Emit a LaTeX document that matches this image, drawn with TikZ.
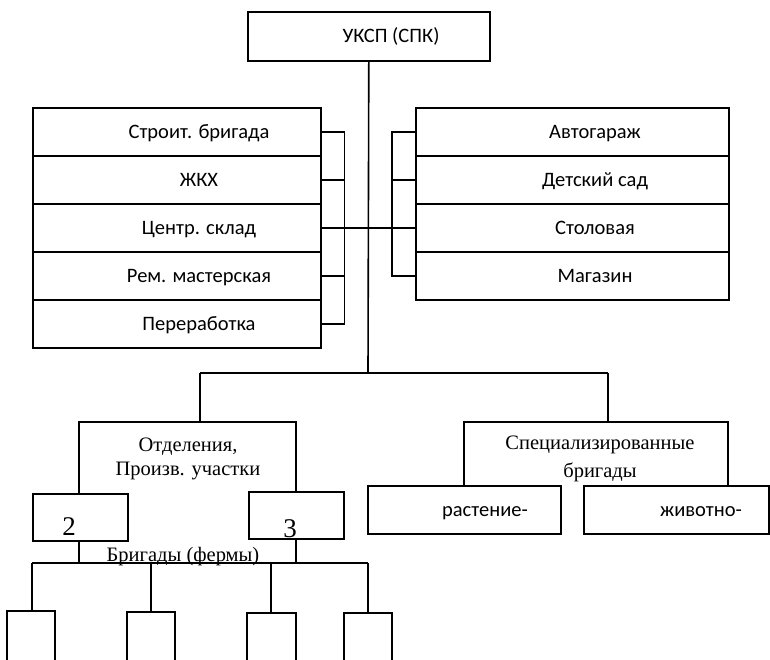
\documentclass[tikz,border=0pt]{standalone}
\usepackage{fontspec}
\setmainfont{Liberation Serif}
\newfontfamily\calib{Carlito}
\begin{document}
\begin{tikzpicture}[x=1pt,y=-1pt,line width=1.6pt,
  box/.style={draw,rectangle,inner sep=0pt,anchor=north west},
  stxt/.style={font=\calib\fontsize{20.5}{24}\selectfont,inner sep=0pt,anchor=base},
  rtxt/.style={font=\fontsize{20.5}{24}\selectfont,inner sep=0pt,anchor=base,align=center},
  dtxt/.style={font=\fontsize{27}{30}\selectfont,inner sep=0pt,anchor=base},
]
\useasboundingbox (0,0) rectangle (770,659);

% head office
\node[box,minimum width=242,minimum height=49] (top) at (247,11) {};
\node[stxt] (toptxt) at (391,42) {УКСП (СПК)};

% left stack of services
\foreach \t [count=\i] in {Строит. бригада,ЖКХ,Центр. склад,Рем. мастерская,Переработка}{
  \node[box,minimum width=288,minimum height=48] (l\i) at (32,59+48*\i) {};
  \node[stxt] (lt\i) at (199,90+48*\i) {\t};
}
% right stack of services
\foreach \t [count=\i] in {Автогараж,Детский сад,Столовая,Магазин}{
  \node[box,minimum width=313,minimum height=48] (r\i) at (415,59+48*\i) {};
  \node[stxt] (rt\i) at (595,90+48*\i) {\t};
}

% main trunk and the split below it
\coordinate (hub) at (368,373);
\coordinate (hl) at (200,373);
\coordinate (hr) at (608,373);
\draw (top.south) -- (hub);
\draw (hl) -- (hr);

% bracket joining the left stack
\draw (l1.east) -- ++(23,0) coordinate (lb1) |- (l5.east);
\foreach \i in {2,3,4}{\draw (l\i.east) -- ++(23,0);}
\draw (l3.east) ++(23,0) -- (l3.east -| hub);

% bracket joining the right stack
\draw (r1.west) -- ++(-23,0) |- (r4.west);
\foreach \i in {2,3}{\draw (r\i.west) -- ++(-23,0);}
\draw (r3.west) ++(-23,0) -- (r3.west -| hub);

% departments / production sites
\coordinate (dl) at (79,422);
\coordinate (dr) at (296,422);
\node[box,minimum width=95,minimum height=47] (b2) at (32,493) {};
\node[box,minimum width=95,minimum height=47] (b3) at (248,491) {};
\draw (b2.north -| dl) -- (dl) -- (dr) -- (b3.north -| dr);
\draw (hl) -- (hl |- dl);
\node[rtxt] (dept) at (188,475) {Отделения,\\[0pt]Произв. участки};
\node[dtxt] (n2) at (69,535) {2};
\node[dtxt] (n3) at (290,537) {3};

% brigades (farms)
\coordinate (bl) at (32,563);
\coordinate (br) at (368,563);
\draw (b2.south -| dl) -- (dl |- bl);
\draw (b3.south -| dr) -- (dr |- bl);
\draw (bl) -- (br);
\node[rtxt] (brig) at (183,561) {Бригады (фермы)};
\foreach \x/\a/\b/\t/\n in {32/7/55/611/fa,151/127/175/612/fb,271/247/296/613/fc,368/344/392/613/fd}{
  \coordinate (\n) at (\x,\t);
  \draw (\x,563) -- (\n);
  \draw (\a,670) -- (\a,\t) -- (\b,\t) -- (\b,670);
}

% specialised brigades
\coordinate (sl) at (464,422);
\coordinate (sr) at (728,422);
\node[box,minimum width=193,minimum height=48] (plant) at (367,485) {};
\node[box,minimum width=185,minimum height=48] (anim) at (583,485) {};
\draw (plant.north -| sl) -- (sl) -- (sr) -- (anim.north -| sr);
\draw (hr) -- (hr |- sl);
\node[rtxt] (spec) at (600,477) {Специализированные\\[4pt]бригады};
\node[stxt] (plt) at (485,516) {растение-};
\node[stxt] (ant) at (701,516) {животно-};
\end{tikzpicture}
\end{document}
